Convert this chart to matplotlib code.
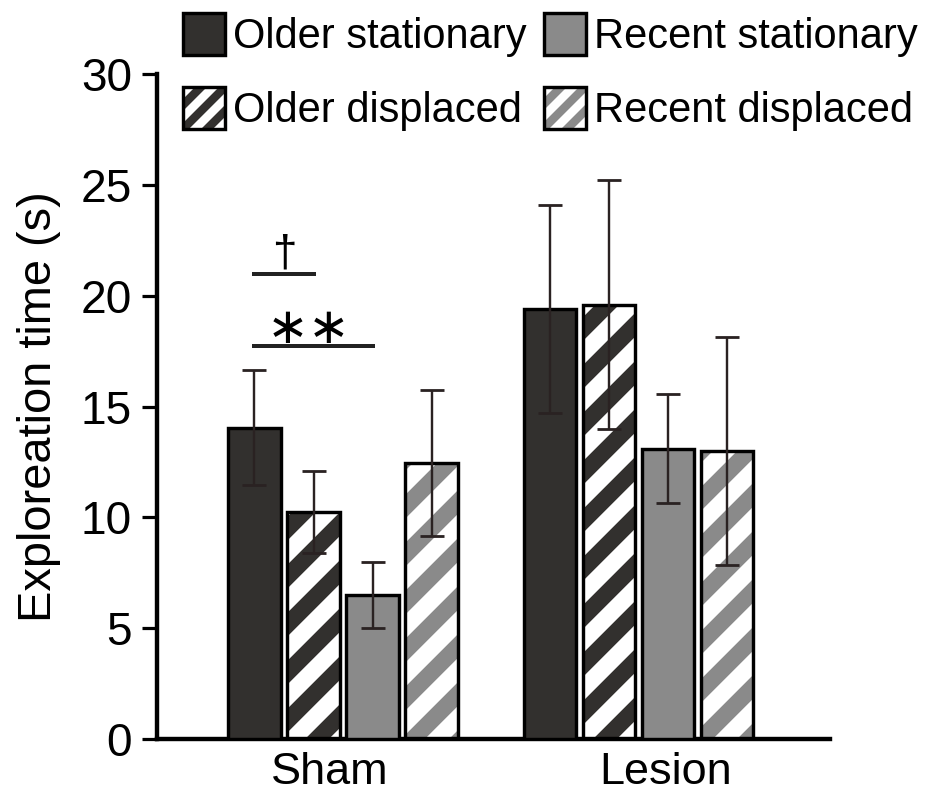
import numpy as np
import matplotlib.pyplot as plt
from matplotlib.patches import Patch

plt.rcParams['font.family'] = ['Liberation Sans', 'DejaVu Sans']
plt.rcParams['hatch.linewidth'] = 4.2

# mean exploration time (s) and error, per object condition, for Sham / Lesion
groups = ['Sham', 'Lesion']
conditions = ['Older stationary', 'Older displaced', 'Recent stationary', 'Recent displaced']
older_stationary = [14.05, 19.4]
older_stationary_err = [2.6, 4.7]
older_displaced = [10.25, 19.6]
older_displaced_err = [1.85, 5.6]
recent_stationary = [6.5, 13.1]
recent_stationary_err = [1.5, 2.45]
recent_displaced = [12.45, 13.0]
recent_displaced_err = [3.3, 5.15]

means = [older_stationary, older_displaced, recent_stationary, recent_displaced]
errs = [older_stationary_err, older_displaced_err, recent_stationary_err, recent_displaced_err]

dark = '#32302e'
grey = '#8a8a8a'
colors = [dark, dark, grey, grey]
hatched = [False, True, False, True]

DPI = 288
fig = plt.figure(figsize=(926 / DPI, 799 / DPI), dpi=DPI)
ax = fig.add_axes([157 / 926, 1 - 739 / 799, (830 - 157) / 926, (739 - 74) / 799])

group_start = np.array([0, 5])
width = 0.89
edge_lw = 0.85

for i in range(4):
    x = group_start + i
    if hatched[i]:
        ax.bar(x, means[i], width, color='white', edgecolor=colors[i], hatch='//', lw=0, zorder=2)
        ax.bar(x, means[i], width, fill=False, edgecolor='black', lw=edge_lw, zorder=3)
    else:
        ax.bar(x, means[i], width, color=colors[i], edgecolor='black', lw=edge_lw, zorder=3)
    ax.errorbar(x, means[i], yerr=errs[i], fmt='none', ecolor='#2a2222',
                elinewidth=0.6, capsize=3, capthick=0.7, zorder=4)

# significance marks between Sham bars
ax.plot([0, 1], [20.97, 20.97], color='#222222', lw=1.0)
ax.text(0.5, 20.95, '\u2020', ha='center', va='bottom', fontsize=11)
ax.plot([0, 2], [17.72, 17.72], color='#222222', lw=1.0)
ax.text(0.91, 18.5, '\u2217\u2217', ha='center', va='center', fontsize=12.5,
        family='DejaVu Sans')

ax.set_xlim(-1.65, 9.74)
ax.set_ylim(0, 30)
ax.set_yticks(np.arange(0, 31, 5))
ax.set_xticks([1.28, 6.95])
ax.set_xticklabels(groups)
ax.tick_params(axis='y', length=3.75, width=0.8, pad=2.5, labelsize=11.5)
ax.tick_params(axis='x', length=0, pad=3.2, labelsize=11.25)
for side in ['top', 'right']:
    ax.spines[side].set_visible(False)
for side in ['left', 'bottom']:
    ax.spines[side].set_linewidth(1.1)
ax.set_ylabel('Exploreation time (s)', fontsize=11.75, labelpad=5)

# legend: solid squares and finer striped squares
handles = []
for i in range(4):
    if hatched[i]:
        handles.append((Patch(facecolor='white', edgecolor=colors[i], hatch='////', lw=0),
                        Patch(fill=False, edgecolor='black', lw=edge_lw)))
    else:
        handles.append(Patch(facecolor=colors[i], edgecolor='black', lw=edge_lw))
with plt.rc_context({'hatch.linewidth': 2.1}):
    fig.legend(handles, conditions, ncol=2, loc='upper left',
               bbox_to_anchor=(183 / 926, 1 - 13 / 799), frameon=False,
               fontsize=10.4, handlelength=1.0, handleheight=1.18, handletextpad=0.2,
               columnspacing=0.43, labelspacing=0.72, borderpad=0, borderaxespad=0)

fig.savefig('out.png', dpi=DPI)
